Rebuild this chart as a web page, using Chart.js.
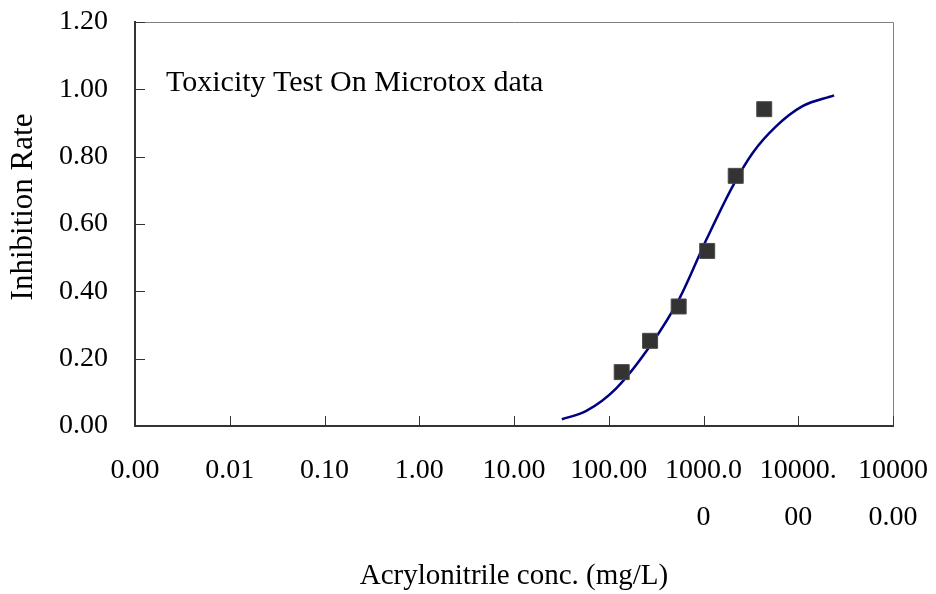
<!DOCTYPE html>
<html>
<head>
<meta charset="utf-8">
<script src="https://cdn.jsdelivr.net/npm/chart.js@4/dist/chart.umd.min.js"></script>
<style>
  html, body { margin: 0; padding: 0; background: #fff; }
  #wrap { width: 936px; height: 594px; }
</style>
</head>
<body>
<div id="wrap"><canvas id="tox-chart" width="936" height="594"></canvas></div>
<script>
// measured points (conc mg/L, inhibition rate)
const measuredConc = [137, 273, 547, 1094, 2188, 4375];
const measuredRate = [0.16, 0.253, 0.355, 0.52, 0.743, 0.941];

// fitted curve
const fitConc = [32, 58, 120, 270, 560, 1070, 2030, 3300, 5830, 11100, 23900];
const fitRate = [0.02, 0.045, 0.112, 0.236, 0.38, 0.553, 0.712, 0.811, 0.89, 0.95, 0.982];

const xTickValues = [0.001, 0.01, 0.1, 1, 10, 100, 1000, 10000, 100000];
const xTickLabels = ['0.00', '0.01', '0.10', '1.00', '10.00', '100.00',
    ['1000.0', '0'], ['10000.', '00'], ['10000', '0.00']];

const FONT = "'Liberation Serif', 'Times New Roman', serif";

function toPoints(xs, ys) {
    return xs.map((x, i) => ({ x: x, y: ys[i] }));
}

// frame box, short inside tick marks, inner caption and y title
const framePlugin = {
    id: 'frame',
    beforeDatasetsDraw(chart) {
        const { ctx, chartArea: a, scales } = chart;
        ctx.save();
        ctx.strokeStyle = '#808080';
        ctx.lineWidth = 1;
        ctx.beginPath();
        ctx.moveTo(a.left, a.top + 0.5);
        ctx.lineTo(a.right + 0.5, a.top + 0.5);
        ctx.lineTo(a.right + 0.5, a.bottom);
        ctx.stroke();

        ctx.strokeStyle = '#333';
        ctx.lineWidth = 1;
        ctx.beginPath();
        xTickValues.forEach(v => {
            const px = Math.round(scales.x.getPixelForValue(v)) + 0.5;
            ctx.moveTo(px, a.bottom);
            ctx.lineTo(px, a.bottom - 10);
        });
        for (let v = 0.2; v <= 1.21; v += 0.2) {
            const py = Math.round(scales.y.getPixelForValue(v)) + 0.5;
            ctx.moveTo(a.left, py);
            ctx.lineTo(a.left + 10, py);
        }
        ctx.stroke();

        ctx.fillStyle = '#000';
        ctx.font = '30px ' + FONT;
        ctx.textBaseline = 'middle';
        ctx.textAlign = 'left';
        ctx.fillText('Toxicity Test On Microtox data', 166, 83);

        ctx.translate(24, 207);
        ctx.rotate(-Math.PI / 2);
        ctx.textAlign = 'center';
        ctx.font = '31px ' + FONT;
        ctx.fillText('Inhibition Rate', 0, 0);
        ctx.restore();
    }
};

const ctx = document.getElementById('tox-chart').getContext('2d');
new Chart(ctx, {
    type: 'scatter',
    data: {
        datasets: [{
            label: 'Measured',
            data: toPoints(measuredConc, measuredRate),
            pointStyle: 'rect',
            pointRadius: 10.6,
            backgroundColor: '#333333',
            borderColor: '#4a4a4a',
            borderWidth: 1,
            showLine: false
        }, {
            label: 'Fit',
            data: toPoints(fitConc, fitRate),
            showLine: true,
            borderColor: '#000080',
            borderWidth: 2.5,
            pointRadius: 0,
            cubicInterpolationMode: 'monotone',
            fill: false
        }]
    },
    options: {
        responsive: false,
        animation: false,
        layout: { padding: { top: 22, right: 43, bottom: 0, left: 0 } },
        plugins: {
            legend: { display: false },
            tooltip: { enabled: false }
        },
        scales: {
            x: {
                type: 'logarithmic',
                min: 0.001,
                max: 100000,
                afterBuildTicks: scale => {
                    scale.ticks = xTickValues.map(v => ({ value: v }));
                },
                afterFit: scale => {
                    scale.height = 168;
                    scale.paddingLeft = 0;
                    scale.paddingRight = 0;
                },
                grid: { display: false, drawTicks: false },
                border: { display: true, color: '#333', width: 2 },
                ticks: {
                    autoSkip: false,
                    maxRotation: 0,
                    minRotation: 0,
                    padding: 21,
                    color: '#000',
                    font: { family: FONT, size: 28, lineHeight: '47px' },
                    callback: (value, index) => xTickLabels[index]
                },
                title: {
                    display: true,
                    text: 'Acrylonitrile conc. (mg/L)',
                    color: '#000',
                    font: { family: FONT, size: 29 },
                    padding: { top: 0, bottom: 0 }
                }
            },
            y: {
                min: 0,
                max: 1.2,
                afterFit: scale => {
                    scale.width = 135;
                    scale.paddingTop = 0;
                    scale.paddingBottom = 0;
                },
                grid: { display: false, drawTicks: false },
                border: { display: true, color: '#333', width: 2 },
                ticks: {
                    stepSize: 0.2,
                    padding: 27,
                    color: '#000',
                    font: { family: FONT, size: 28 },
                    callback: value => Number(value).toFixed(2)
                }
            }
        }
    },
    plugins: [framePlugin]
});
</script>
</body>
</html>
